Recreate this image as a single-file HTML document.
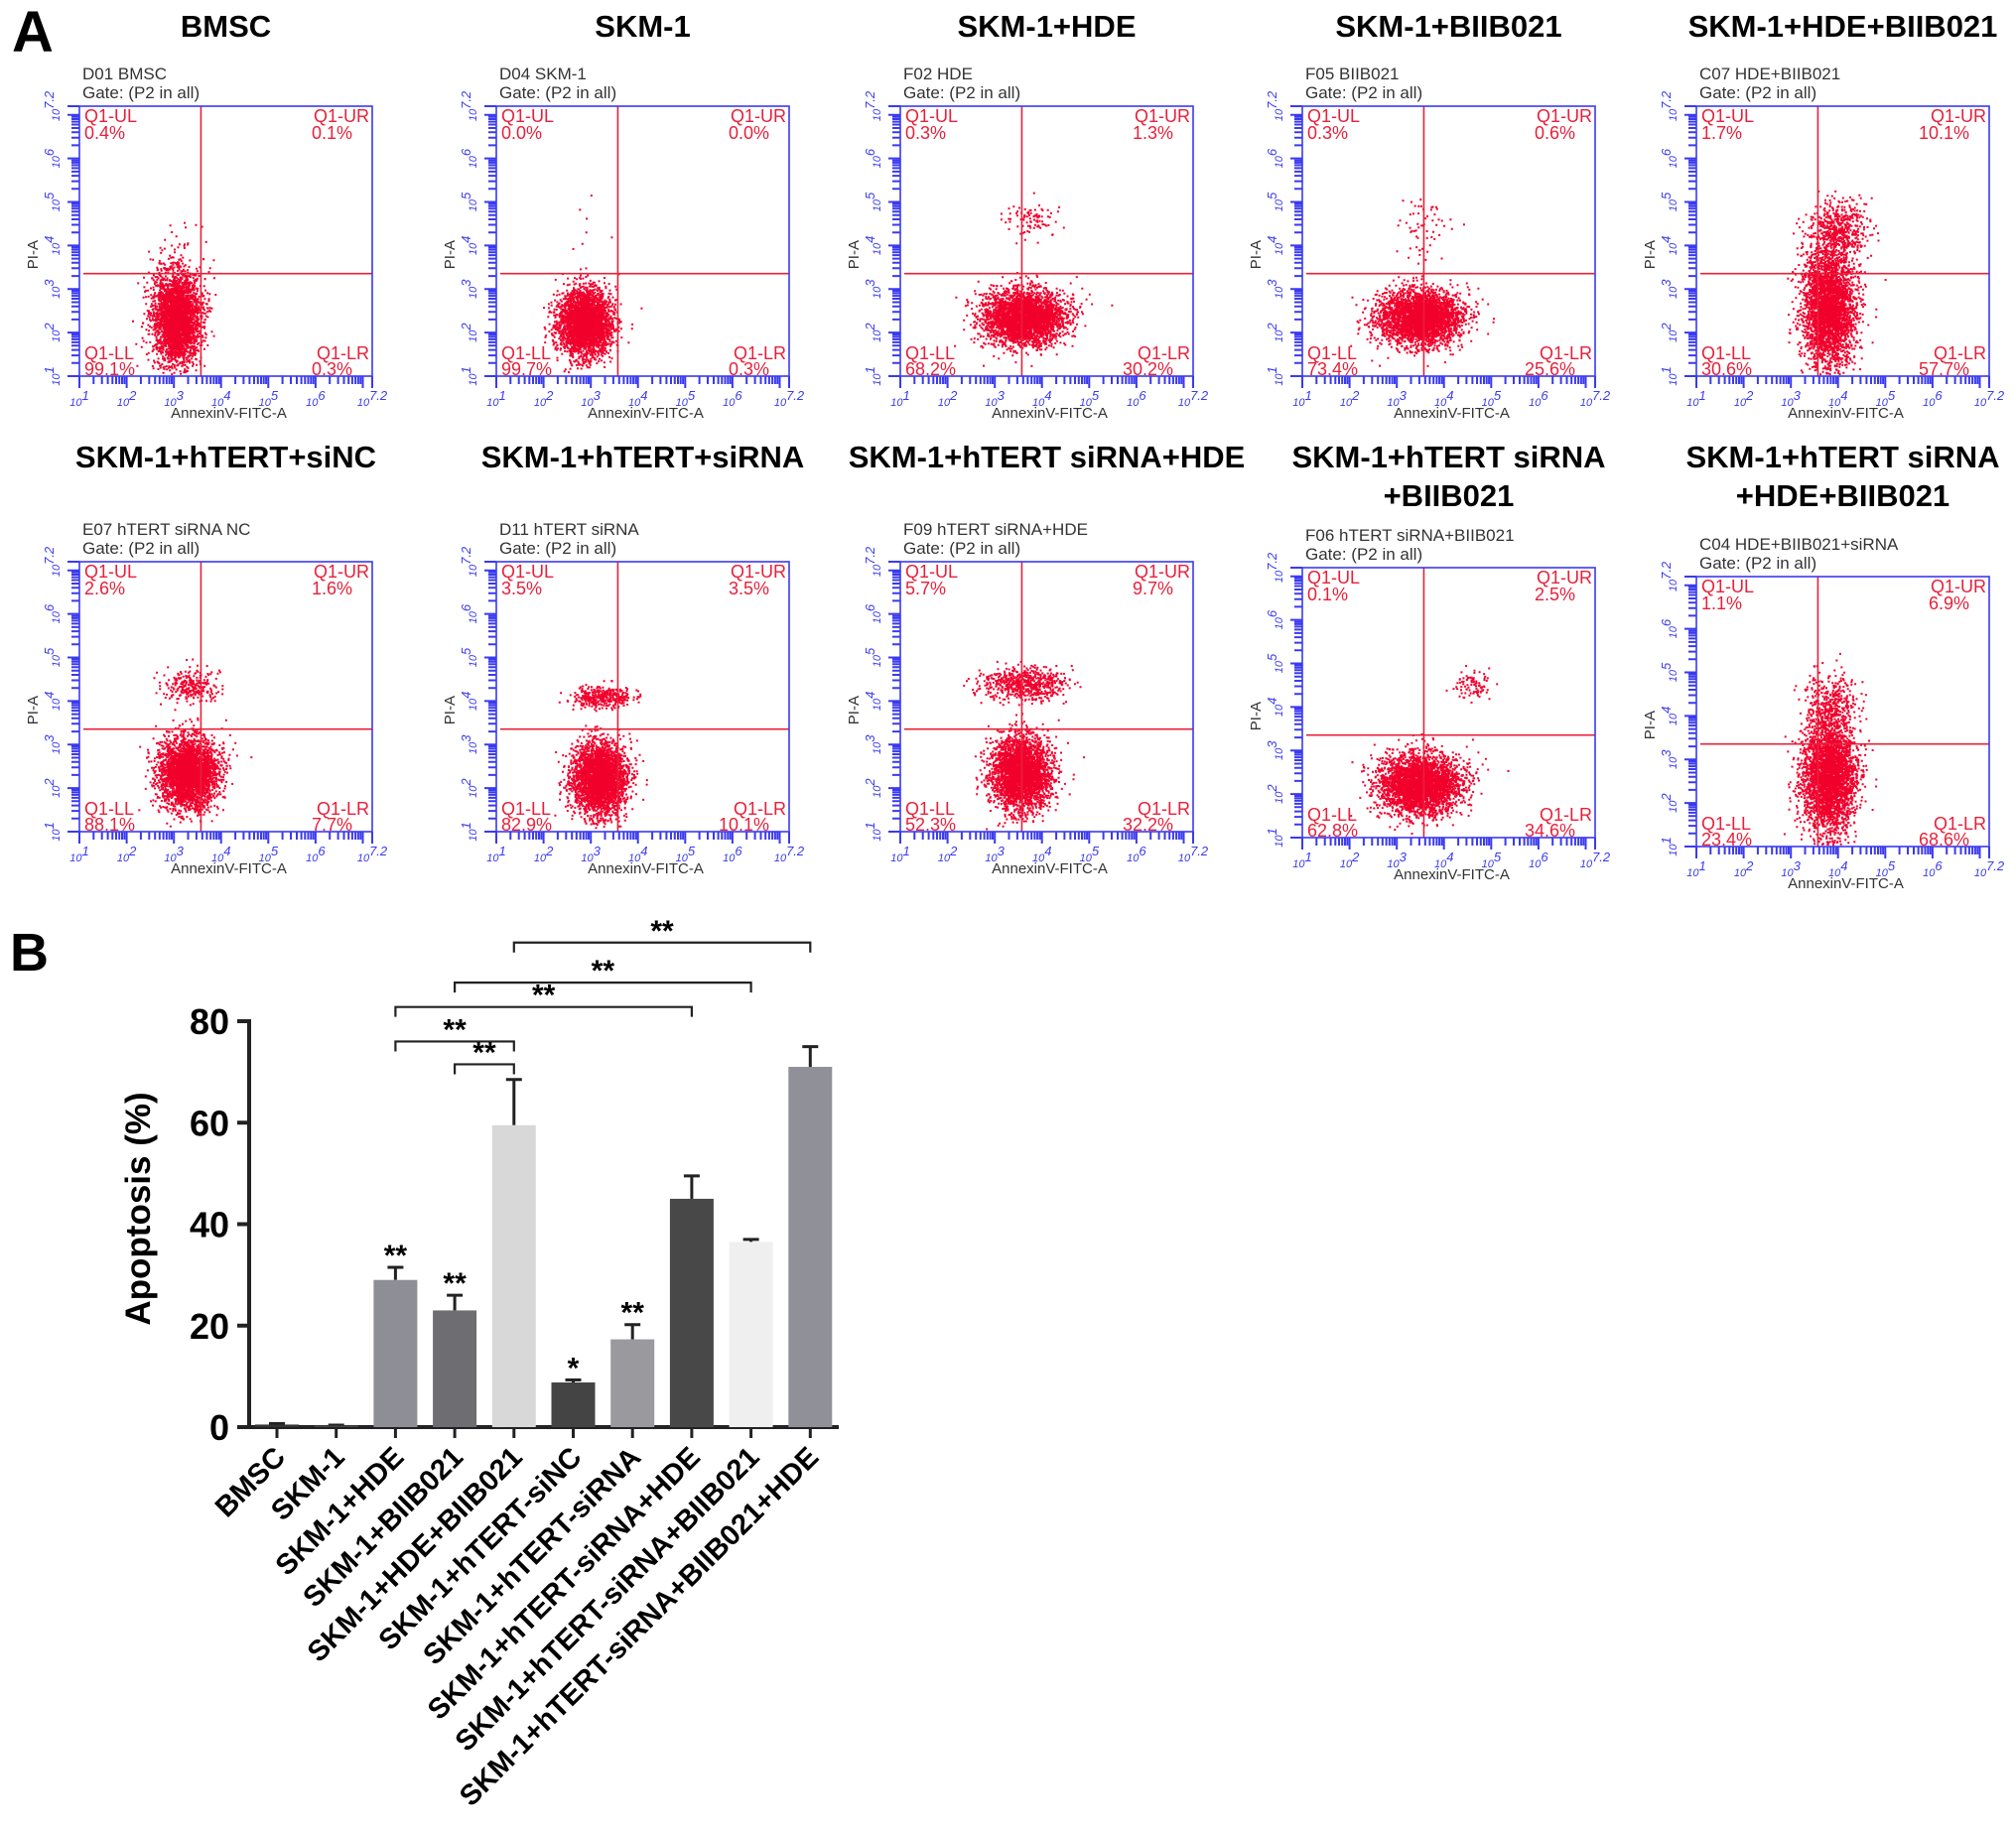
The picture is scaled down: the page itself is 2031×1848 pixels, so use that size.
<!DOCTYPE html>
<html><head><meta charset="utf-8">
<style>
html,body{margin:0;padding:0;background:#fff;}
body{width:2031px;height:1848px;overflow:hidden;position:relative;font-family:"Liberation Sans",Arial,sans-serif;}
svg{position:absolute;left:0;top:0;}
</style></head>
<body>
<svg id="fig" width="2031" height="1848" viewBox="0 0 2031 1848" xmlns="http://www.w3.org/2000/svg">
<text x="12" y="52" font-size="58" font-weight="bold" font-family="Liberation Sans">A</text>
<text x="10" y="978" font-size="54" font-weight="bold" font-family="Liberation Sans">B</text>
<g id="flow"></g>
<g id="bars"></g>
</svg>
<script>
const NS="http://www.w3.org/2000/svg";
function mk(tag,attrs,parent){const e=document.createElementNS(NS,tag);for(const k in attrs)e.setAttribute(k,attrs[k]);if(parent)parent.appendChild(e);return e;}

// ---------- Flow panels data ----------
const flowTitles=[["BMSC"],["SKM-1"],["SKM-1+HDE"],["SKM-1+BIIB021"],["SKM-1+HDE+BIIB021"],["SKM-1+hTERT+siNC"],["SKM-1+hTERT+siRNA"],["SKM-1+hTERT siRNA+HDE"],["SKM-1+hTERT siRNA","+BIIB021"],["SKM-1+hTERT siRNA","+HDE+BIIB021"]];
const flowSamples=["D01 BMSC","D04 SKM-1","F02 HDE","F05 BIIB021","C07 HDE+BIIB021","E07 hTERT siRNA NC","D11 hTERT siRNA","F09 hTERT siRNA+HDE","F06 hTERT siRNA+BIIB021","C04 HDE+BIIB021+siRNA"];
const qUL=["0.4","0.0","0.3","0.3","1.7","2.6","3.5","5.7","0.1","1.1"];
const qUR=["0.1","0.0","1.3","0.6","10.1","1.6","3.5","9.7","2.5","6.9"];
const qLL=["99.1","99.7","68.2","73.4","30.6","88.1","82.9","52.3","62.8","23.4"];
const qLR=["0.3","0.3","30.2","25.6","57.7","7.7","10.1","32.2","34.6","68.6"];
// cluster [fx, fy, sdx, sdy, count] in box fractions
const mainClusters=[[0.33,0.78,0.04,0.085,3200],[0.30,0.80,0.045,0.06,3200],[0.42,0.78,0.07,0.05,3200],[0.40,0.78,0.07,0.05,3200],[0.45,0.74,0.045,0.11,3200],[0.37,0.78,0.05,0.065,3200],[0.35,0.80,0.045,0.065,3200],[0.41,0.78,0.05,0.065,3200],[0.40,0.80,0.07,0.055,3200],[0.45,0.74,0.045,0.10,3200]];
const upperClusters=[[0.35,0.5,0.05,0.08,20],[0.3,0.5,0.05,0.08,8],[0.45,0.42,0.05,0.03,90],[0.42,0.45,0.05,0.06,60],[0.48,0.45,0.05,0.05,500],[0.38,0.46,0.05,0.03,250],[0.36,0.5,0.05,0.02,350],[0.42,0.45,0.07,0.03,650],[0.58,0.43,0.03,0.025,90],[0.46,0.47,0.045,0.06,400]];
const boxX=[80,500,907,1312,1709,80,500,907,1312,1709];
const boxY=[107,107,107,107,107,566,566,566,572,581];
const BW=295,BH=272,VX=0.415,HY=0.62;

let seed=12345;
function rnd(){seed=(seed*1103515245+12345)%2147483648;return seed/2147483648;}
function gauss(){let u=rnd()||1e-9,v=rnd();return Math.sqrt(-2*Math.log(u))*Math.cos(2*Math.PI*v);}

const flow=document.getElementById('flow');
for(let i=0;i<10;i++){
  const g=mk('g',{},flow);
  
  
  const x0=boxX[i],y0=boxY[i],cx=x0+BW/2;
  const t=flowTitles[i];
  const ty=i<5?37:471;
  t.forEach((line,k)=>{const tt=mk('text',{x:cx,y:ty+k*39,'text-anchor':'middle','font-size':31,'font-weight':'bold','font-family':'Liberation Sans'},g);tt.textContent=line;
    });
  const s1=mk('text',{x:x0+3,y:y0-27,'font-size':17,fill:'#333','font-family':'Liberation Sans'},g);s1.textContent=flowSamples[i];
  
  const s2=mk('text',{x:x0+3,y:y0-8,'font-size':17,fill:'#333','font-family':'Liberation Sans'},g);s2.textContent="Gate: (P2 in all)";
  
  let d='';
  const addCl=(c)=>{for(let n=0;n<c[4];n++){let fx=c[0]+gauss()*c[2],fy=c[1]+gauss()*c[3];if(fx<0.01||fx>0.99||fy<0.01||fy>0.99)continue;const px=(x0+fx*BW).toFixed(1),py=(y0+fy*BH).toFixed(1);d+='M'+px+' '+py+'h2v2h-2z';}};
  addCl(mainClusters[i]);addCl(upperClusters[i]);
  const pts=mk('path',{d:d,fill:'#f2002c'},g);
  
  mk('line',{x1:x0+VX*BW,y1:y0,x2:x0+VX*BW,y2:y0+BH,stroke:'#e8203a','stroke-width':1.6},g);
  mk('line',{x1:x0+4,y1:y0+HY*BH,x2:x0+BW,y2:y0+HY*BH,stroke:'#e8203a','stroke-width':1.6},g);
  const bx=mk('rect',{x:x0,y:y0,width:BW,height:BH,fill:'none',stroke:'#3a3af0','stroke-width':1.6},g);
  
  const qt=(x,y,txt,anchor)=>{const e=mk('text',{x:x,y:y,'font-size':18,fill:'#e8203a','text-anchor':anchor,'font-family':'Liberation Sans'},g);e.textContent=txt;};
  qt(x0+5,y0+16,'Q1-UL','start');qt(x0+5,y0+33,qUL[i]+'%','start');
  qt(x0+BW-3,y0+16,'Q1-UR','end');qt(x0+BW-20,y0+33,qUR[i]+'%','end');
  qt(x0+5,y0+BH-17,'Q1-LL','start');qt(x0+5,y0+BH-1,qLL[i]+'%','start');
  qt(x0+BW-3,y0+BH-17,'Q1-LR','end');qt(x0+BW-20,y0+BH-1,qLR[i]+'%','end');
  let tk='';
  for(let dec=1;dec<7.2;dec++){for(let m=1;m<10;m++){const v=dec+Math.log10(m);if(v>7.2)break;const f=(v-1)/6.2;const major=m===1;
    const px=x0+f*BW, py=y0+BH-f*BH;
    tk+='M'+px.toFixed(1)+' '+(y0+BH)+'v'+(major?12:8);
    tk+='M'+x0+' '+py.toFixed(1)+'h-'+(major?12:8);}}
  tk+='M'+(x0+BW)+' '+(y0+BH)+'v12M'+x0+' '+y0+'h-12';
  mk('path',{d:tk,stroke:'#3a3af0','stroke-width':2,fill:'none'},g);
  const dl=['1','2','3','4','5','6','7.2'];
  dl.forEach((lab,k)=>{const v=k<6?k+1:7.2;const f=(v-1)/6.2;
    const a=mk('text',{x:x0+f*BW,y:y0+BH+30,'font-size':11,fill:'#3a3af0','text-anchor':'middle','font-style':'italic','font-family':'Liberation Sans'},g);
    a.textContent='10';const sa=mk('tspan',{dy:-6,'font-size':13},a);sa.textContent=lab;
    
    const b=mk('text',{x:0,y:0,'font-size':11,fill:'#3a3af0','text-anchor':'middle','font-style':'italic','font-family':'Liberation Sans',transform:'translate('+(x0-20)+','+(y0+BH-f*BH)+') rotate(-90)'},g);
    b.textContent='10';const sb=mk('tspan',{dy:-6,'font-size':13},b);sb.textContent=lab;
    });
  const xl=mk('text',{x:x0+BW/2+3,y:y0+BH+42,'font-size':15,fill:'#333','text-anchor':'middle','font-family':'Liberation Sans'},g);xl.textContent='AnnexinV-FITC-A';
  
  const yl=mk('text',{x:0,y:0,'font-size':15,fill:'#333','text-anchor':'middle','font-family':'Liberation Sans',transform:'translate('+(x0-42)+','+(y0+BH*0.55)+') rotate(-90)'},g);yl.textContent='PI-A';
  
}

// ---------- Bar chart data ----------
const categories=["BMSC","SKM-1","SKM-1+HDE","SKM-1+BIIB021","SKM-1+HDE+BIIB021","SKM-1+hTERT-siNC","SKM-1+hTERT-siRNA","SKM-1+hTERT-siRNA+HDE","SKM-1+hTERT-siRNA+BIIB021","SKM-1+hTERT-siRNA+BIIB021+HDE"];
const values=[0.5,0.3,29,23,59.5,8.8,17.3,45,36.5,71];
const errors=[0.2,0.1,2.5,3,9,0.5,2.9,4.5,0.5,4];
const stars=["","","**","**","","*","**","","",""];
const barColors=["#333","#444","#8e8e96","#6e6e72","#d8d8d8","#444","#9a9a9e","#484848","#efefef","#909098"];
const yTicks=[0,20,40,60,80];
const brackets=[[4,9,"**"],[3,8,"**"],[2,7,"**"],[2,4,"**"],[3,4,"**"]];
const bracketLevels=[95.5,87.6,82.8,76,71.5];

const PY0=1438,PY80=1029,PX0=251,PX1=845,STEP=59.7,FIRST=279,BARW=44;
const yS=v=>PY0-(PY0-PY80)*v/80;
const xS=i=>FIRST+i*STEP;
const bars=document.getElementById('bars');
const ya=mk('line',{x1:PX0,y1:PY80-2,x2:PX0,y2:PY0+2,stroke:'#222','stroke-width':4},bars);

const xa=mk('line',{x1:PX0-2,y1:PY0,x2:PX1,y2:PY0,stroke:'#222','stroke-width':4},bars);

yTicks.forEach(v=>{mk('line',{x1:PX0-12,y1:yS(v),x2:PX0,y2:yS(v),stroke:'#222','stroke-width':4},bars);
  const t=mk('text',{x:PX0-20,y:yS(v)+13,'text-anchor':'end','font-size':36,'font-weight':'bold','font-family':'Liberation Sans'},bars);t.textContent=v;
  });
const yt=mk('text',{x:0,y:0,'text-anchor':'middle','font-size':35,'font-weight':'bold','font-family':'Liberation Sans',transform:'translate(151,1218) rotate(-90)'},bars);yt.textContent='Apoptosis (%)';

categories.forEach((c,i)=>{
  const cx=xS(i);
  const top=yS(values[i]+errors[i]);
  mk('line',{x1:cx,y1:top,x2:cx,y2:yS(values[i]),stroke:'#222','stroke-width':3},bars);
  mk('line',{x1:cx-8,y1:top,x2:cx+8,y2:top,stroke:'#222','stroke-width':3},bars);
  const r=mk('rect',{x:cx-BARW/2,y:yS(values[i]),width:BARW,height:PY0-yS(values[i]),fill:barColors[i]},bars);
  
  mk('line',{x1:cx,y1:PY0,x2:cx,y2:PY0+11,stroke:'#222','stroke-width':3},bars);
  if(stars[i]){const s=mk('text',{x:cx,y:top-2,'text-anchor':'middle','font-size':30,'font-weight':'bold','font-family':'Liberation Sans'},bars);s.textContent=stars[i];
    }
  const l=mk('text',{x:0,y:0,'text-anchor':'end','font-size':29,'font-weight':'bold','font-family':'Liberation Sans',transform:'translate('+(cx+10)+','+(PY0+32)+') rotate(-45)'},bars);l.textContent=c;
  
});
brackets.forEach((b,k)=>{
  const y=yS(bracketLevels[k]),xa_=xS(b[0]),xb=xS(b[1]);
  const p=mk('path',{d:'M'+xa_+' '+(y+10)+'V'+y+'H'+xb+'V'+(y+10),stroke:'#222','stroke-width':2.2,fill:'none'},bars);
  
  const t=mk('text',{x:(xa_+xb)/2,y:y-2,'text-anchor':'middle','font-size':30,'font-weight':'bold','font-family':'Liberation Sans'},bars);t.textContent=b[2];
  
});
</script>
</body></html>
